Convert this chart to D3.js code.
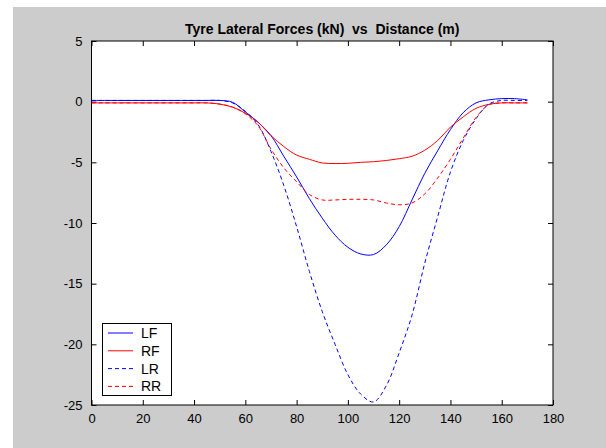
<!DOCTYPE html>
<html>
<head>
<meta charset="utf-8">
<script src="https://cdn.jsdelivr.net/npm/d3@7"></script>
<style>
body { margin: 0; background: #fff; }
svg { display: block; font-family: "Liberation Sans", Arial, sans-serif; }
</style>
</head>
<body>
<svg width="606" height="448"></svg>
<script>
var distance = [0,5,10,15,20,25,30,35,40,45,50,55,60,65,70,75,80,85,90,95,100,105,110,115,120,125,130,135,140,145,150,155,160,165,170];

var lf = [0.1,0.1,0.1,0.1,0.1,0.1,0.1,0.1,0.1,0.1,0.1,-0.05,-0.85,-1.7,-2.8,-4.5,-6.2,-8.0,-9.6,-11.0,-12.0,-12.55,-12.6,-11.8,-10.3,-8.1,-5.9,-4.05,-2.3,-0.9,-0.1,0.15,0.25,0.25,0.15];
var rf = [-0.1,-0.1,-0.1,-0.1,-0.1,-0.1,-0.1,-0.1,-0.1,-0.1,-0.2,-0.45,-0.95,-1.7,-2.8,-3.7,-4.4,-4.75,-5.05,-5.1,-5.08,-5.0,-4.95,-4.85,-4.7,-4.5,-4.0,-3.2,-2.1,-1.25,-0.55,-0.22,-0.1,-0.1,-0.1];
var lr = [0.1,0.1,0.1,0.1,0.1,0.1,0.1,0.1,0.1,0.1,0.1,-0.1,-0.8,-1.9,-4.1,-6.9,-10.3,-14.0,-17.3,-20.0,-22.5,-24.1,-24.75,-23.4,-20.7,-17.6,-13.3,-9.5,-5.8,-3.2,-1.4,-0.2,0.1,0.1,0.1];
var rr = [-0.1,-0.1,-0.1,-0.1,-0.1,-0.1,-0.1,-0.1,-0.1,-0.1,-0.2,-0.45,-1.0,-2.0,-3.9,-5.45,-6.6,-7.65,-8.1,-8.1,-8.05,-8.05,-8.1,-8.35,-8.5,-8.35,-7.6,-6.3,-4.75,-3.0,-1.3,-0.25,-0.1,-0.1,-0.1];

var seriesNames = ["LF", "RF", "LR", "RR"];
var xTicks = [0,20,40,60,80,100,120,140,160,180];
var yTicks = [5,0,-5,-10,-15,-20,-25];

var series = [
	{"name": "LF", "values": lf, "color": "#0000ff", "dash": null},
	{"name": "RF", "values": rf, "color": "#ff0000", "dash": null},
	{"name": "LR", "values": lr, "color": "#0000ff", "dash": "4,3"},
	{"name": "RR", "values": rr, "color": "#ff0000", "dash": "4,3"}
];

var svg = d3.select("svg");
var plotLeft = 91.5, plotRight = 553, plotTop = 41, plotBottom = 405;

// figure background
svg.append("rect")
	.attr("x", 13).attr("y", 7)
	.attr("width", 593).attr("height", 441)
	.attr("fill", "#cccccc");

svg.append("rect")
	.attr("x", plotLeft).attr("y", plotTop)
	.attr("width", plotRight - plotLeft).attr("height", plotBottom - plotTop)
	.attr("fill", "#fff");

var x = d3.scaleLinear().domain([0, 180]).range([plotLeft, plotRight]);
var y = d3.scaleLinear().domain([-25, 5]).range([plotBottom, plotTop]);

function styleAxis(g) {
	g.select(".domain").remove();
	g.selectAll("line").attr("stroke", "#000");
	g.selectAll("text")
		.attr("fill", "#000")
		.style("font-size", "13px");
}

svg.append("g")
	.attr("transform", "translate(0," + plotBottom + ")")
	.call(d3.axisBottom(x).tickValues(xTicks).tickSizeInner(-5).tickSizeOuter(0).tickPadding(9))
	.call(styleAxis);

svg.append("g")
	.attr("transform", "translate(0," + plotTop + ")")
	.call(d3.axisTop(x).tickValues(xTicks).tickSizeInner(-5).tickSizeOuter(0).tickFormat(""))
	.call(styleAxis);

svg.append("g")
	.attr("transform", "translate(" + plotLeft + ",0)")
	.call(d3.axisLeft(y).tickValues(yTicks).tickSizeInner(-5).tickSizeOuter(0).tickPadding(9).tickFormat(function(d) { return String(d); }))
	.call(styleAxis);

svg.append("g")
	.attr("transform", "translate(" + plotRight + ",0)")
	.call(d3.axisRight(y).tickValues(yTicks).tickSizeInner(-5).tickSizeOuter(0).tickFormat(""))
	.call(styleAxis);

var line = d3.line()
	.x(function(d, i) { return x(distance[i]); })
	.y(function(d) { return y(d); })
	.curve(d3.curveCatmullRom.alpha(0.5));

svg.append("g")
	.selectAll("path")
	.data(series)
	.enter()
	.append("path")
	.attr("d", function(d) { return line(d.values); })
	.attr("fill", "none")
	.attr("stroke", function(d) { return d.color; })
	.attr("stroke-width", 1)
	.attr("stroke-dasharray", function(d) { return d.dash; });

// box
svg.append("rect")
	.attr("x", plotLeft).attr("y", plotTop)
	.attr("width", plotRight - plotLeft).attr("height", plotBottom - plotTop)
	.attr("fill", "none")
	.attr("stroke", "#000")
	.attr("stroke-width", 1);

svg.append("text")
	.attr("x", (plotLeft + plotRight) / 2)
	.attr("y", 34)
	.attr("text-anchor", "middle")
	.style("font-size", "14px")
	.style("font-weight", "bold")
	.style("white-space", "pre")
	.text("Tyre Lateral Forces (kN)  vs  Distance (m)");

// legend
var legend = svg.append("g");
legend.append("rect")
	.attr("x", 102.5).attr("y", 323.5)
	.attr("width", 69).attr("height", 72)
	.attr("fill", "#fff")
	.attr("stroke", "#000");

var items = legend.selectAll("g")
	.data(series)
	.enter()
	.append("g")
	.attr("transform", function(d, i) { return "translate(0," + (333 + i * 17.8) + ")"; });

items.append("line")
	.attr("x1", 108).attr("x2", 133)
	.attr("stroke", function(d) { return d.color; })
	.attr("stroke-dasharray", function(d) { return d.dash; });

items.append("text")
	.attr("x", 141)
	.attr("dy", "0.35em")
	.style("font-size", "14px")
	.text(function(d, i) { return seriesNames[i]; });
</script>
</body>
</html>
